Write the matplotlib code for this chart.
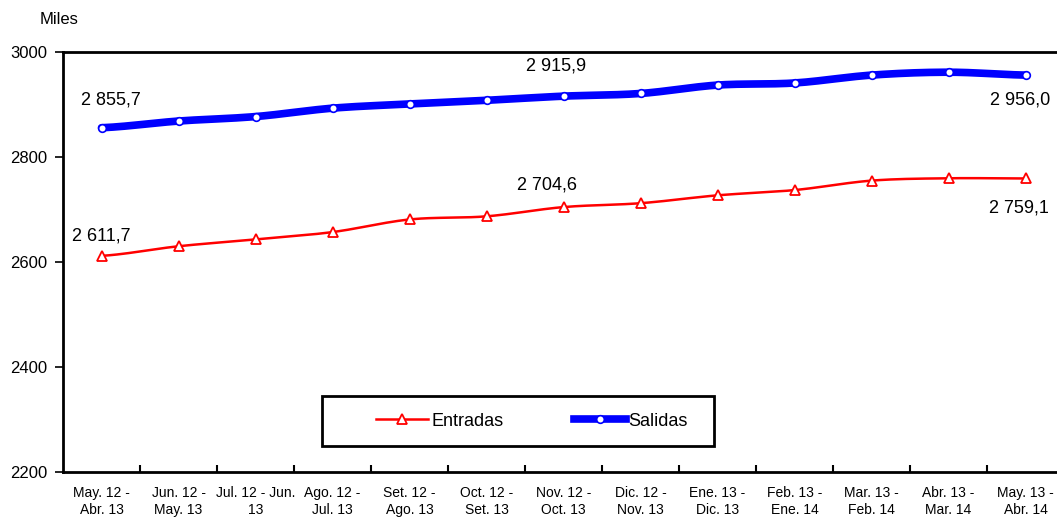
import matplotlib
matplotlib.use("Agg")
import matplotlib.pyplot as plt
import numpy as np
from matplotlib.ticker import FixedLocator
from matplotlib.lines import Line2D
from matplotlib.patches import Rectangle

categories = ["May. 12 -\nAbr. 13", "Jun. 12 -\nMay. 13", "Jul. 12 - Jun.\n13", "Ago. 12 -\nJul. 13",
              "Set. 12 -\nAgo. 13", "Oct. 12 -\nSet. 13", "Nov. 12 -\nOct. 13", "Dic. 12 -\nNov. 13",
              "Ene. 13 -\nDic. 13", "Feb. 13 -\nEne. 14", "Mar. 13 -\nFeb. 14", "Abr. 13 -\nMar. 14",
              "May. 13 -\nAbr. 14"]
entradas = [2611.7, 2630, 2643, 2657, 2681, 2687, 2704.6, 2712, 2727, 2737, 2755, 2759.5, 2759.1]
salidas = [2855.7, 2868.5, 2877, 2893, 2901, 2908, 2915.9, 2921, 2937, 2941, 2956, 2961.5, 2956.0]
labels_entradas = {0: "2 611,7", 6: "2 704,6", 12: "2 759,1"}
labels_salidas = {0: "2 855,7", 6: "2 915,9", 12: "2 956,0"}
yticks = [2200, 2400, 2600, 2800, 3000]

plt.rcParams['font.family'] = ['Liberation Sans', 'DejaVu Sans']

W, H = 1057, 519


def smooth(y, n=20):
    y = np.asarray(y, float)
    x = np.arange(len(y), dtype=float)
    p = np.concatenate([[y[0]], y, [y[-1]]])
    xs, ys = [], []
    for i in range(len(y) - 1):
        p0, p1, p2, p3 = p[i], p[i + 1], p[i + 2], p[i + 3]
        t = np.linspace(0, 1, n, endpoint=False)
        yy = 0.5 * ((2 * p1) + (-p0 + p2) * t + (2 * p0 - 5 * p1 + 4 * p2 - p3) * t ** 2
                    + (-p0 + 3 * p1 - 3 * p2 + p3) * t ** 3)
        xs.append(x[i] + t)
        ys.append(yy)
    xs.append([x[-1]])
    ys.append([y[-1]])
    return np.concatenate(xs), np.concatenate(ys)


fig = plt.figure(figsize=(W / 100, H / 100), dpi=100)
ax = fig.add_axes([63 / W, 47 / H, 1001 / W, 420 / H])

x = np.arange(len(categories))
xs, ys = smooth(salidas)
ax.plot(xs, ys, color='#0000FF', lw=5.5, solid_capstyle='round', zorder=3)
ax.plot(x, salidas, ls='none', marker='o', ms=5.5, mfc='white', mec='#0000FF', mew=1.2, zorder=4)
xe, ye = smooth(entradas)
ax.plot(xe, ye, color='#FF0000', lw=1.8, zorder=3)
ax.plot(x, entradas, ls='none', marker='^', ms=6.5, mfc='white', mec='#FF0000', mew=1.3, zorder=4)

off_s = {0: (7, 20), 6: (-5, 22), 12: (-4, -18)}
off_e = {0: (0, 14.5), 6: (-12, 16), 12: (-5, -21.5)}
for i, t in labels_salidas.items():
    ax.annotate(t, (x[i], salidas[i]), xytext=off_s[i], textcoords='offset points',
                ha='center', va='center', fontsize=13)
for i, t in labels_entradas.items():
    ax.annotate(t, (x[i], entradas[i]), xytext=off_e[i], textcoords='offset points',
                ha='center', va='center', fontsize=13)

ax.set_xlim(-0.5, len(categories) - 0.5)
ax.set_ylim(2200, 3000)
ax.set_yticks(yticks)
ax.set_yticklabels([str(v) for v in yticks], fontsize=12)
ax.tick_params(axis='y', direction='out', length=6, width=1.2, pad=5)

ax.set_xticks(x)
ax.set_xticklabels(categories, fontsize=10, linespacing=1.3)
ax.tick_params(axis='x', which='major', length=0, pad=10)
ax.xaxis.set_minor_locator(FixedLocator(np.arange(0.5, len(categories) - 0.5, 1)))
ax.tick_params(axis='x', which='minor', direction='in', length=5, width=1.5)

for s in ax.spines.values():
    s.set_linewidth(2)
    s.set_color('black')

fig.text(40 / W, 1 - 20 / H, "Miles", fontsize=12, ha='left', va='center')

# legend box
rect = Rectangle((322 / W, 1 - 446 / H), (714 - 322) / W, 50 / H, transform=fig.transFigure,
                 facecolor='white', edgecolor='black', lw=2, zorder=5)
fig.patches.append(rect)

h1 = Line2D([], [], color='#FF0000', lw=1.8, marker='^', ms=6.5, mfc='white', mec='#FF0000', mew=1.3)
h2 = Line2D([], [], color='#0000FF', lw=5.5, marker='o', ms=5.5, mfc='white', mec='#0000FF', mew=1.2)
leg = fig.legend([h1, h2], ["Entradas", "Salidas"], loc='center left',
                 bbox_to_anchor=(376 / W, 1 - 421 / H), bbox_transform=fig.transFigure,
                 ncol=2, fontsize=13, frameon=False, borderpad=0, borderaxespad=0,
                 handlelength=2.9, handletextpad=0.15, columnspacing=3.9)
leg.set_zorder(6)

fig.savefig("out.png", dpi=100)
